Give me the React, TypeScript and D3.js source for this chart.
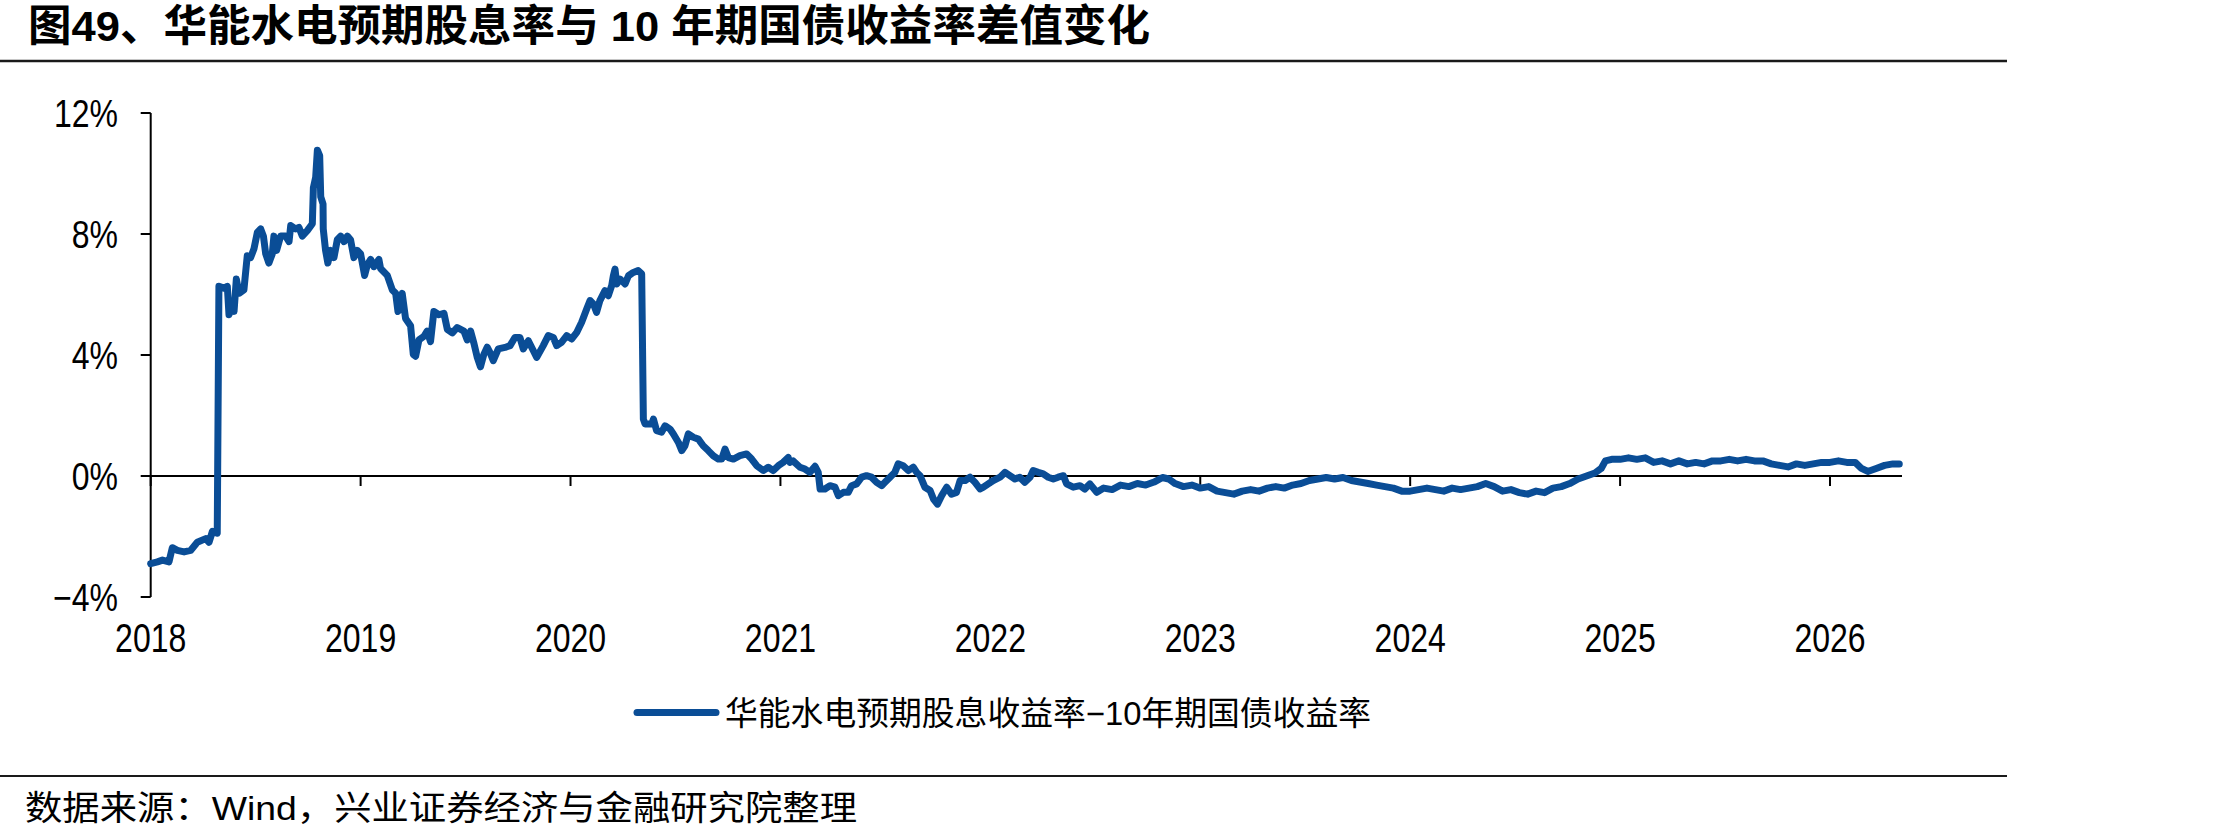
import React from "react";
import * as d3 from "d3";

const titleText = "图49、华能水电预期股息率与 10 年期国债收益率差值变化";
const legendLabel = "华能水电预期股息收益率−10年期国债收益率";
const sourceText = "数据来源：Wind，兴业证券经济与金融研究院整理";

const yTicks = [-4, 0, 4, 8, 12];
const yTickLabels = ["−4%", "0%", "4%", "8%", "12%"];
const xTicks = [2018, 2019, 2020, 2021, 2022, 2023, 2024, 2025, 2026];
const xTickLabels = ["2018", "2019", "2020", "2021", "2022", "2023", "2024", "2025", "2026"];

// [decimal year, spread %]
const spreadSeries: [number, number][] = [
  [2018.0, -2.9], [2018.032, -2.84], [2018.056, -2.78], [2018.087, -2.84], [2018.103, -2.37],
  [2018.127, -2.46], [2018.159, -2.51], [2018.19, -2.46], [2018.222, -2.19], [2018.262, -2.07],
  [2018.278, -2.19], [2018.294, -1.83], [2018.317, -1.89], [2018.325, 6.27], [2018.349, 6.21],
  [2018.365, 6.27], [2018.373, 5.33], [2018.389, 5.68], [2018.397, 5.44], [2018.408, 6.51],
  [2018.421, 6.04], [2018.444, 6.15], [2018.46, 7.28], [2018.476, 7.22], [2018.492, 7.51],
  [2018.508, 8.05], [2018.524, 8.17], [2018.537, 7.93], [2018.548, 7.34], [2018.563, 7.04],
  [2018.579, 7.34], [2018.587, 7.93], [2018.6, 7.46], [2018.619, 7.93], [2018.643, 7.93],
  [2018.659, 7.75], [2018.667, 8.28], [2018.69, 8.17], [2018.706, 8.22], [2018.722, 7.93],
  [2018.746, 8.11], [2018.77, 8.34], [2018.775, 9.53], [2018.786, 9.88], [2018.794, 10.77],
  [2018.805, 10.59], [2018.81, 9.23], [2018.821, 8.99], [2018.822, 8.17], [2018.833, 7.46],
  [2018.844, 7.04], [2018.857, 7.46], [2018.873, 7.22], [2018.889, 7.81], [2018.905, 7.93],
  [2018.921, 7.75], [2018.937, 7.93], [2018.952, 7.81], [2018.968, 7.22], [2018.984, 7.46],
  [2019.0, 7.34], [2019.019, 6.63], [2019.032, 6.98], [2019.048, 7.16], [2019.063, 6.92],
  [2019.087, 7.16], [2019.095, 6.86], [2019.127, 6.63], [2019.151, 6.15], [2019.167, 6.04],
  [2019.178, 5.44], [2019.198, 6.04], [2019.214, 5.21], [2019.238, 4.97], [2019.251, 4.02],
  [2019.262, 3.96], [2019.278, 4.5], [2019.302, 4.62], [2019.317, 4.79], [2019.333, 4.44],
  [2019.349, 5.44], [2019.373, 5.33], [2019.397, 5.38], [2019.413, 4.85], [2019.437, 4.73],
  [2019.46, 4.91], [2019.492, 4.79], [2019.508, 4.5], [2019.524, 4.79], [2019.54, 4.38],
  [2019.556, 3.91], [2019.571, 3.61], [2019.587, 4.02], [2019.603, 4.26], [2019.616, 4.09],
  [2019.632, 3.81], [2019.656, 4.2], [2019.688, 4.25], [2019.712, 4.31], [2019.735, 4.58],
  [2019.759, 4.58], [2019.775, 4.2], [2019.799, 4.47], [2019.823, 4.14], [2019.839, 3.92],
  [2019.87, 4.31], [2019.894, 4.64], [2019.918, 4.58], [2019.934, 4.31], [2019.957, 4.42],
  [2019.982, 4.64], [2020.005, 4.53], [2020.03, 4.75], [2020.053, 5.08], [2020.077, 5.52],
  [2020.093, 5.8], [2020.109, 5.69], [2020.124, 5.41], [2020.14, 5.8], [2020.164, 6.13],
  [2020.18, 5.96], [2020.196, 6.29], [2020.204, 6.62], [2020.212, 6.84], [2020.22, 6.35],
  [2020.236, 6.51], [2020.26, 6.35], [2020.276, 6.62], [2020.299, 6.73], [2020.322, 6.79],
  [2020.339, 6.68], [2020.347, 1.88], [2020.355, 1.72], [2020.387, 1.72], [2020.395, 1.88],
  [2020.41, 1.5], [2020.434, 1.45], [2020.45, 1.66], [2020.474, 1.55], [2020.49, 1.39],
  [2020.514, 1.11], [2020.53, 0.84], [2020.545, 1.0], [2020.561, 1.39], [2020.585, 1.28],
  [2020.609, 1.22], [2020.632, 1.0], [2020.656, 0.84], [2020.68, 0.67], [2020.704, 0.56],
  [2020.72, 0.56], [2020.736, 0.89], [2020.752, 0.61], [2020.776, 0.56], [2020.807, 0.67],
  [2020.839, 0.73], [2020.863, 0.56], [2020.887, 0.34], [2020.918, 0.18], [2020.942, 0.29],
  [2020.966, 0.18], [2020.99, 0.34], [2021.013, 0.45], [2021.037, 0.61], [2021.045, 0.45],
  [2021.06, 0.5], [2021.093, 0.29], [2021.117, 0.23], [2021.14, 0.12], [2021.165, 0.32],
  [2021.18, 0.12], [2021.189, -0.43], [2021.212, -0.43], [2021.236, -0.32], [2021.26, -0.37],
  [2021.276, -0.65], [2021.3, -0.54], [2021.323, -0.54], [2021.339, -0.32], [2021.363, -0.26],
  [2021.387, -0.04], [2021.41, 0.01], [2021.434, -0.04], [2021.458, -0.21], [2021.482, -0.32],
  [2021.498, -0.21], [2021.522, -0.04], [2021.545, 0.12], [2021.561, 0.4], [2021.585, 0.34],
  [2021.609, 0.18], [2021.633, 0.29], [2021.649, 0.12], [2021.665, 0.01], [2021.688, -0.37],
  [2021.713, -0.48], [2021.729, -0.76], [2021.748, -0.93], [2021.768, -0.65], [2021.792, -0.37],
  [2021.815, -0.6], [2021.839, -0.54], [2021.856, -0.15], [2021.88, -0.15], [2021.903, -0.04],
  [2021.927, -0.21], [2021.951, -0.43], [2021.967, -0.37], [2021.99, -0.26], [2022.014, -0.15],
  [2022.046, -0.04], [2022.07, 0.12], [2022.093, 0.01], [2022.117, -0.1], [2022.14, -0.04],
  [2022.164, -0.21], [2022.189, -0.04], [2022.204, 0.18], [2022.228, 0.12], [2022.252, 0.07],
  [2022.276, -0.04], [2022.3, -0.1], [2022.323, -0.04], [2022.348, 0.01], [2022.363, -0.26],
  [2022.395, -0.37], [2022.427, -0.32], [2022.45, -0.43], [2022.474, -0.26], [2022.507, -0.54],
  [2022.54, -0.4], [2022.58, -0.45], [2022.62, -0.3], [2022.66, -0.35], [2022.7, -0.25],
  [2022.74, -0.3], [2022.78, -0.2], [2022.82, -0.05], [2022.85, -0.1], [2022.88, -0.25],
  [2022.92, -0.35], [2022.96, -0.3], [2023.0, -0.4], [2023.04, -0.35], [2023.08, -0.5],
  [2023.12, -0.55], [2023.16, -0.6], [2023.2, -0.5], [2023.24, -0.45], [2023.28, -0.5],
  [2023.32, -0.4], [2023.36, -0.35], [2023.4, -0.4], [2023.44, -0.3], [2023.48, -0.25],
  [2023.52, -0.15], [2023.56, -0.1], [2023.6, -0.05], [2023.64, -0.1], [2023.68, -0.05],
  [2023.72, -0.15], [2023.76, -0.2], [2023.8, -0.25], [2023.84, -0.3], [2023.88, -0.35],
  [2023.92, -0.4], [2023.96, -0.5], [2024.0, -0.5], [2024.04, -0.45], [2024.08, -0.4],
  [2024.12, -0.45], [2024.16, -0.5], [2024.2, -0.4], [2024.24, -0.45], [2024.28, -0.4],
  [2024.32, -0.35], [2024.36, -0.25], [2024.4, -0.35], [2024.44, -0.5], [2024.48, -0.45],
  [2024.52, -0.55], [2024.56, -0.6], [2024.6, -0.5], [2024.64, -0.55], [2024.68, -0.4],
  [2024.72, -0.35], [2024.76, -0.25], [2024.8, -0.1], [2024.84, 0.0], [2024.88, 0.1],
  [2024.91, 0.25], [2024.93, 0.5], [2024.96, 0.55], [2025.0, 0.55], [2025.04, 0.6],
  [2025.08, 0.55], [2025.12, 0.6], [2025.16, 0.45], [2025.2, 0.5], [2025.24, 0.4],
  [2025.28, 0.5], [2025.32, 0.4], [2025.36, 0.45], [2025.4, 0.4], [2025.44, 0.5],
  [2025.48, 0.5], [2025.52, 0.55], [2025.56, 0.5], [2025.6, 0.55], [2025.64, 0.5],
  [2025.68, 0.5], [2025.72, 0.4], [2025.76, 0.35], [2025.8, 0.3], [2025.84, 0.4],
  [2025.88, 0.35], [2025.92, 0.4], [2025.96, 0.45], [2026.0, 0.45], [2026.04, 0.5],
  [2026.08, 0.45], [2026.12, 0.45], [2026.15, 0.25], [2026.18, 0.15], [2026.22, 0.25],
  [2026.26, 0.35], [2026.3, 0.4], [2026.33, 0.4],
];

const W = 2221;
const H = 838;
const FONT = "'Liberation Sans', Arial, 'Noto Sans CJK SC', sans-serif";
const LINE_COLOR = "#0a4d96";

export default function App() {
  const x = d3.scaleLinear().domain([2018, 2026]).range([150.7, 1830]);
  const y = d3.scaleLinear().domain([-4, 12]).range([597, 113]);
  const xEnd = x(2026.343);

  const line = d3
    .line<[number, number]>()
    .x((d) => x(d[0]))
    .y((d) => y(d[1]))
    .curve(d3.curveLinear);

  return (
    <svg
      width={W}
      height={H}
      viewBox={`0 0 ${W} ${H}`}
      style={{ position: "absolute", left: 0, top: 0, display: "block", background: "#fff" }}
      fontFamily={FONT}
    >
      <rect x={0} y={0} width={W} height={H} fill="#fff" />
      {/* Title */}
      <g transform="translate(28, 41) scale(1, 1.08)">
        <text x={0} y={0} fontSize={40} fontWeight="bold" fill="#000" textLength={1122} lengthAdjust="spacingAndGlyphs">
          {titleText}
        </text>
      </g>
      <line x1={0} x2={2007} y1={61} y2={61} stroke="#1a1a1a" strokeWidth={2.5} />

      {/* Y axis */}
      <line x1={x(2018)} x2={x(2018)} y1={y(12)} y2={y(-4)} stroke="#000" strokeWidth={2} />
      {yTicks.map((t, i) => (
        <g key={"yt" + t}>
          <line x1={x(2018) - 10} x2={x(2018)} y1={y(t)} y2={y(t)} stroke="#000" strokeWidth={2} />
          <g transform={`translate(118, ${y(t)}) scale(1, 1.2)`}>
            <text x={0} y={0} fontSize={32} textAnchor="end" dominantBaseline="central" fill="#000">
              {yTickLabels[i]}
            </text>
          </g>
        </g>
      ))}

      {/* X axis at 0% */}
      <line x1={x(2018)} x2={xEnd} y1={y(0)} y2={y(0)} stroke="#000" strokeWidth={2} />
      {xTicks.map((t, i) => (
        <g key={"xt" + t}>
          <line x1={x(t)} x2={x(t)} y1={y(0)} y2={y(0) + 10} stroke="#000" strokeWidth={2} />
          <g transform={`translate(${x(t)}, 638) scale(1, 1.25)`}>
            <text x={0} y={0} fontSize={32} textAnchor="middle" dominantBaseline="central" fill="#000">
              {xTickLabels[i]}
            </text>
          </g>
        </g>
      ))}

      {/* Series */}
      <path
        d={line(spreadSeries) || ""}
        fill="none"
        stroke={LINE_COLOR}
        strokeWidth={7}
        strokeLinejoin="round"
        strokeLinecap="round"
      />

      {/* Legend */}
      <line x1={637} x2={716} y1={712.5} y2={712.5} stroke={LINE_COLOR} strokeWidth={7} strokeLinecap="round" />
      <text x={725} y={725} fontSize={33} fill="#000" textLength={646} lengthAdjust="spacingAndGlyphs">
        {legendLabel}
      </text>

      {/* Footer */}
      <line x1={0} x2={2007} y1={776} y2={776} stroke="#1a1a1a" strokeWidth={2} />
      <text x={25} y={820} fontSize={34} fill="#000" textLength={832} lengthAdjust="spacingAndGlyphs">
        {sourceText}
      </text>
    </svg>
  );
}
